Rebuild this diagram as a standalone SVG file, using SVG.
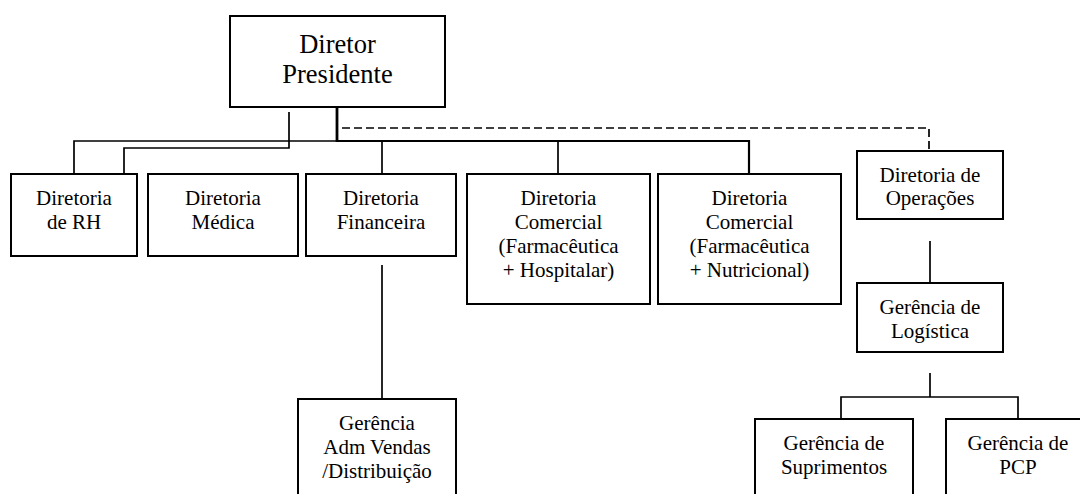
<svg xmlns="http://www.w3.org/2000/svg" width="1080" height="494" viewBox="0 0 1080 494">
<style>
.box{fill:#fff;stroke:#000;stroke-width:2}
.t{font-family:"Liberation Serif","DejaVu Serif",serif;font-size:21px;fill:#000;text-anchor:middle}
.big{font-size:26.5px}
.ln{fill:none;stroke:#000;stroke-width:1.7}
.mid{stroke-width:2.2}
.thick{stroke-width:2.8}
.dash{stroke-dasharray:8 4}
</style>
<rect width="1080" height="494" fill="#fff"/>
<g id="connectors">
<path class="ln thick" d="M337,107 V142"/>
<path class="ln" d="M74,174 V141 H337"/>
<path class="ln mid" d="M336,141 H749 V174"/>
<path class="ln" d="M289,112 V148 H124 V174"/>
<path class="ln" d="M382,141 V174"/>
<path class="ln" d="M558,141 V174"/>
<path class="ln dash" d="M342,128 H929 V151"/>
<path class="ln" d="M930,241 V283"/>
<path class="ln" d="M382,265 V399"/>
<path class="ln" d="M930,373 V397"/>
<path class="ln" d="M841,419 V397 H1018 V419"/>
</g>
<g id="diretor-presidente">
<rect class="box" x="230" y="16" width="215" height="91"/>
<text class="t big" x="337.5" y="53">Diretor</text>
<text class="t big" x="337.5" y="83">Presidente</text>
</g>
<g id="diretoria-rh">
<rect class="box" x="11" y="174" width="126" height="82"/>
<text class="t" x="74" y="205">Diretoria</text>
<text class="t" x="74" y="229">de RH</text>
</g>
<g id="diretoria-medica">
<rect class="box" x="148" y="174" width="150" height="82"/>
<text class="t" x="223" y="205">Diretoria</text>
<text class="t" x="223" y="229">Médica</text>
</g>
<g id="diretoria-financeira">
<rect class="box" x="306" y="174" width="150" height="82"/>
<text class="t" x="381" y="205">Diretoria</text>
<text class="t" x="381" y="229">Financeira</text>
</g>
<g id="diretoria-comercial-hospitalar">
<rect class="box" x="467" y="174" width="183" height="130"/>
<text class="t" x="558.5" y="205">Diretoria</text>
<text class="t" x="558.5" y="229">Comercial</text>
<text class="t" x="558.5" y="253">(Farmacêutica</text>
<text class="t" x="558.5" y="277">+ Hospitalar)</text>
</g>
<g id="diretoria-comercial-nutricional">
<rect class="box" x="658" y="174" width="183" height="130"/>
<text class="t" x="749.5" y="205">Diretoria</text>
<text class="t" x="749.5" y="229">Comercial</text>
<text class="t" x="749.5" y="253">(Farmacêutica</text>
<text class="t" x="749.5" y="277">+ Nutricional)</text>
</g>
<g id="diretoria-operacoes">
<rect class="box" x="857" y="151" width="146" height="68"/>
<text class="t" x="930" y="182">Diretoria de</text>
<text class="t" x="930" y="205">Operações</text>
</g>
<g id="gerencia-logistica">
<rect class="box" x="857" y="283" width="146" height="69"/>
<text class="t" x="930" y="314">Gerência de</text>
<text class="t" x="930" y="338">Logística</text>
</g>
<g id="gerencia-adm-vendas">
<rect class="box" x="298" y="399" width="158" height="110"/>
<text class="t" x="377" y="430">Gerência</text>
<text class="t" x="377" y="454">Adm Vendas</text>
<text class="t" x="377" y="478">/Distribuição</text>
</g>
<g id="gerencia-suprimentos">
<rect class="box" x="755" y="419" width="158" height="100"/>
<text class="t" x="834" y="450">Gerência de</text>
<text class="t" x="834" y="474">Suprimentos</text>
</g>
<g id="gerencia-pcp">
<rect class="box" x="946" y="419" width="158" height="100"/>
<text class="t" x="1018" y="450">Gerência de</text>
<text class="t" x="1018" y="474">PCP</text>
</g>
</svg>
